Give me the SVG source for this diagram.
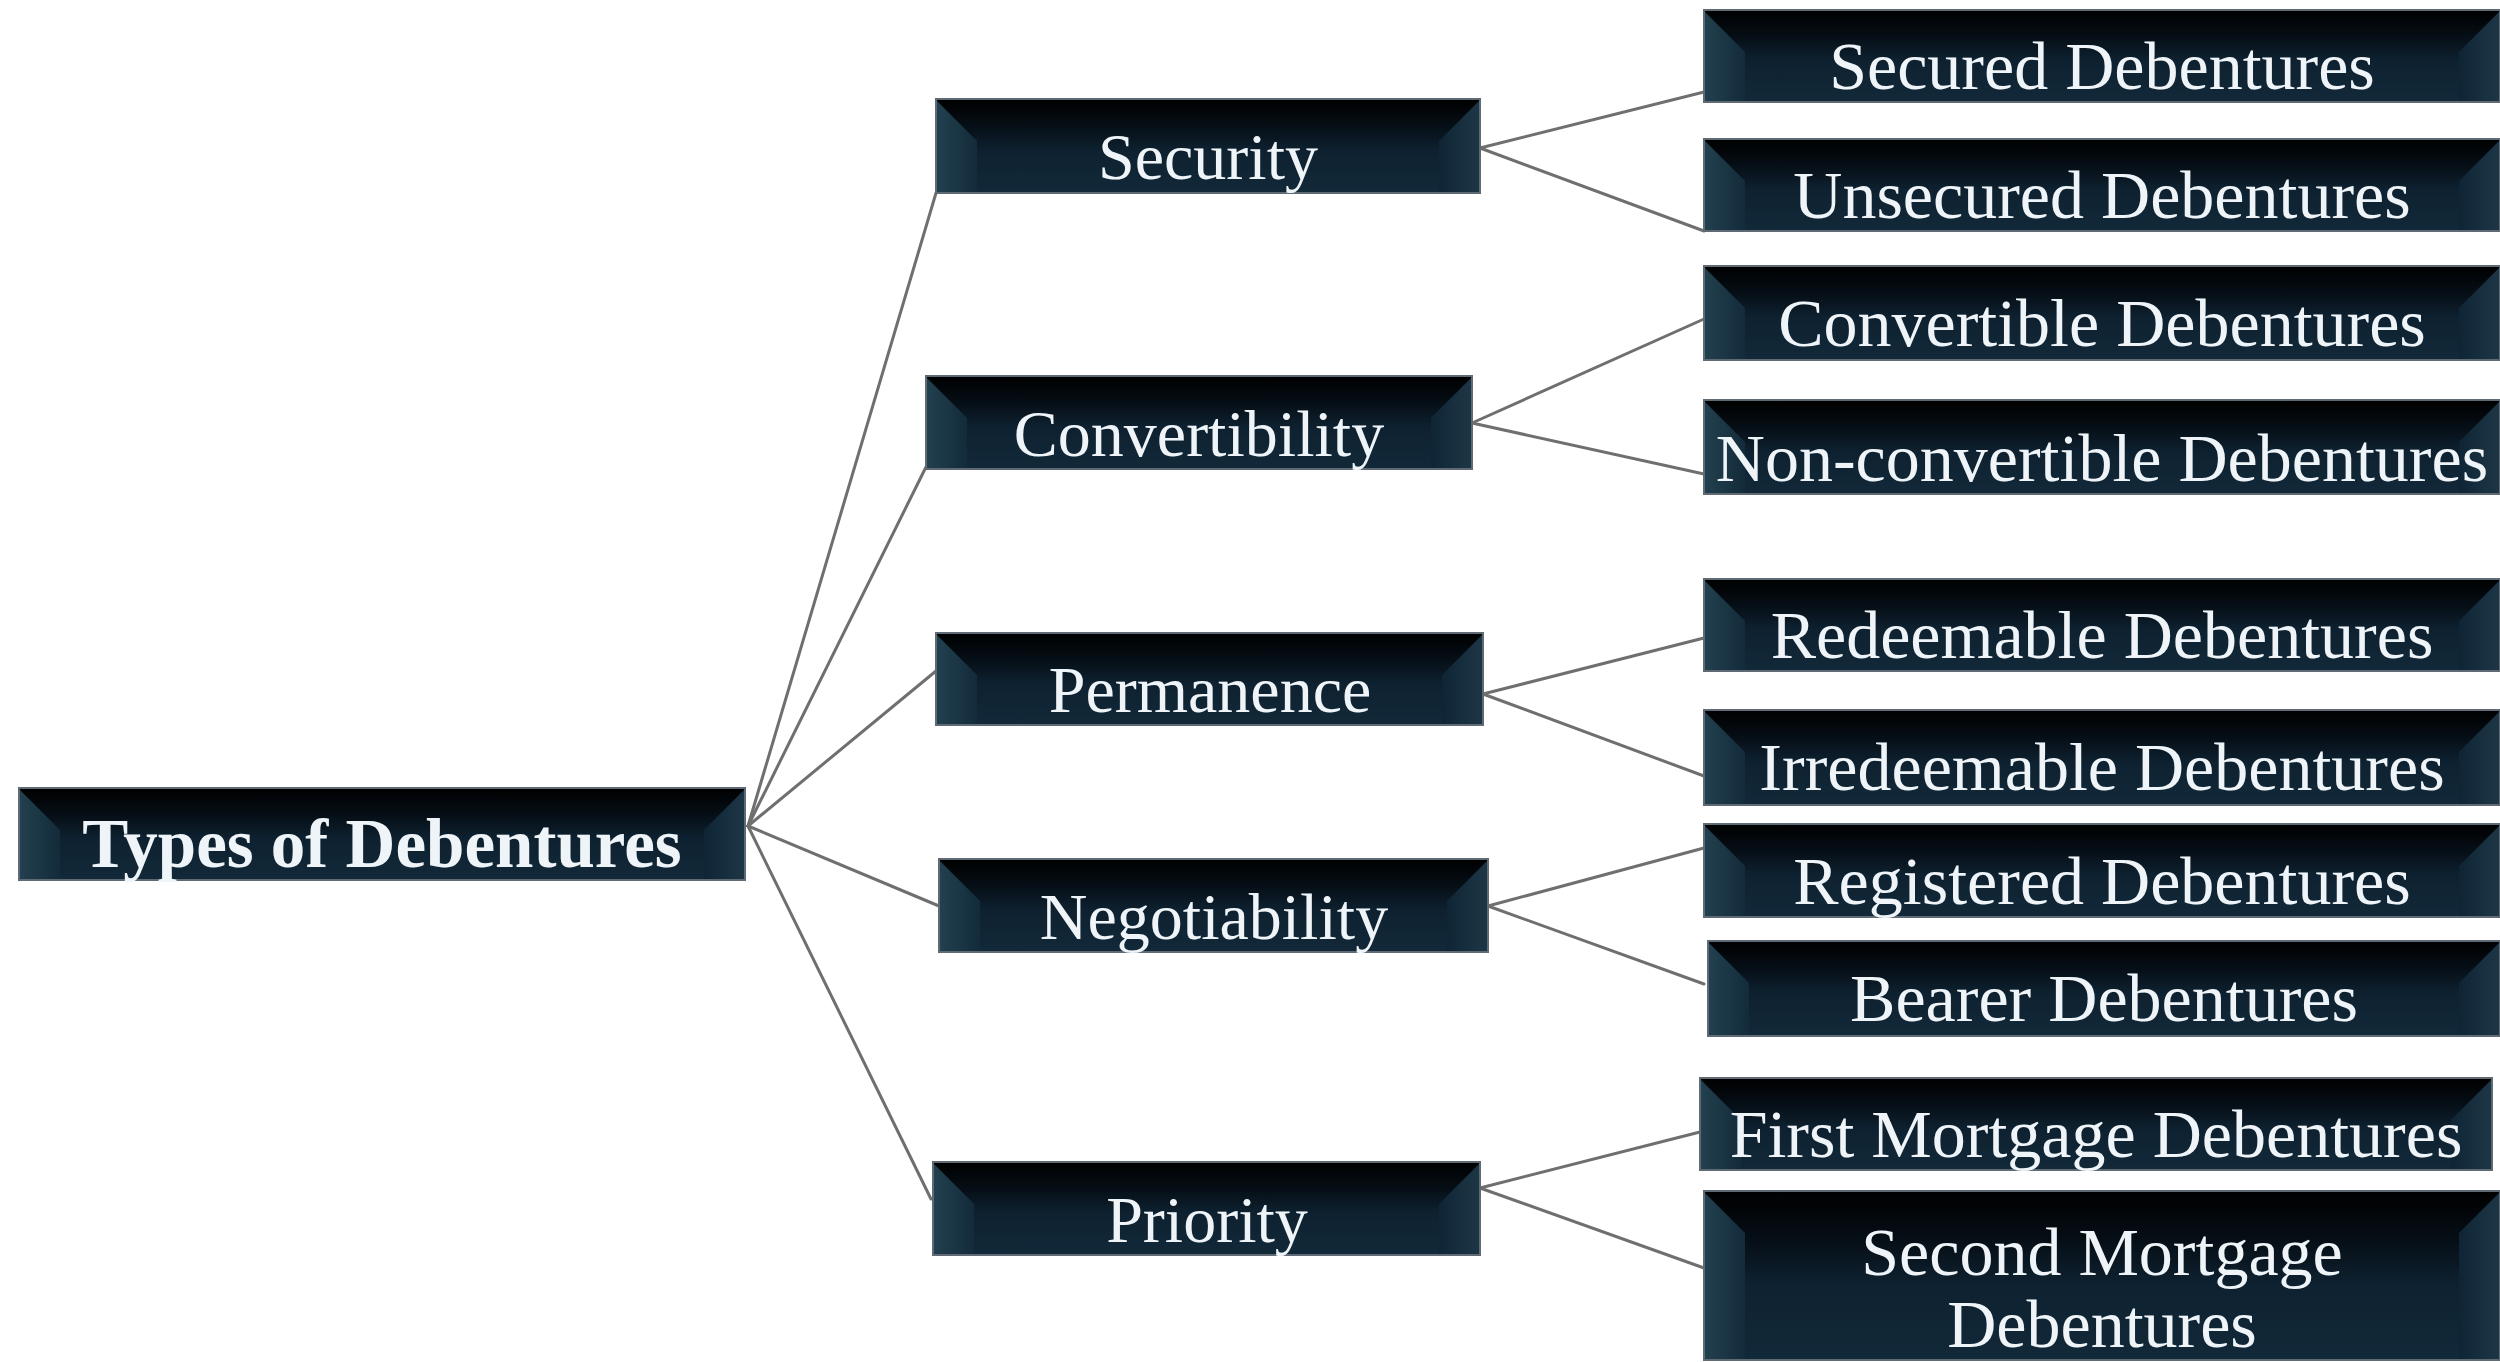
<svg xmlns="http://www.w3.org/2000/svg" width="2500" height="1362" viewBox="0 0 2500 1362">
<defs>
<linearGradient id="body" x1="0" y1="0" x2="0" y2="1">
<stop offset="0" stop-color="#000000"/>
<stop offset="0.3" stop-color="#060f17"/>
<stop offset="0.55" stop-color="#0e2130"/>
<stop offset="1" stop-color="#122939"/>
</linearGradient>
<linearGradient id="bevL" x1="0" y1="0" x2="1" y2="0">
<stop offset="0" stop-color="#22404f"/>
<stop offset="1" stop-color="#132b3a"/>
</linearGradient>
<linearGradient id="bevR" x1="1" y1="0" x2="0" y2="0">
<stop offset="0" stop-color="#1d3646"/>
<stop offset="1" stop-color="#0f2535"/>
</linearGradient>
<style>
.box{fill:url(#body);stroke:#5f6a74;stroke-width:2}
.bl{fill:url(#bevL)}
.br{fill:url(#bevR)}
.t{font-family:"Liberation Serif","Times New Roman",serif;font-size:66px;fill:#eef4f7;text-anchor:middle}
.l3{font-size:68px}
.root{font-weight:bold;font-size:69px}
.conn line{stroke:#6f6f6f;stroke-width:3;stroke-linecap:round}
</style>
</defs>
<rect width="2500" height="1362" fill="#ffffff"/>

<g class="conn" id="connectors">
<line x1="748" y1="826" x2="936" y2="193"/>
<line x1="748" y1="826" x2="926" y2="467"/>
<line x1="748" y1="826" x2="936" y2="671"/>
<line x1="748" y1="826" x2="939" y2="906"/>
<line x1="748" y1="826" x2="931" y2="1199"/>
<line x1="1480" y1="148" x2="1704" y2="92"/>
<line x1="1480" y1="148" x2="1704" y2="231"/>
<line x1="1472" y1="423" x2="1704" y2="319"/>
<line x1="1472" y1="423" x2="1704" y2="474"/>
<line x1="1483" y1="694" x2="1704" y2="638"/>
<line x1="1483" y1="694" x2="1704" y2="776"/>
<line x1="1488" y1="906" x2="1704" y2="848"/>
<line x1="1488" y1="906" x2="1704" y2="984"/>
<line x1="1480" y1="1188" x2="1700" y2="1132"/>
<line x1="1480" y1="1188" x2="1704" y2="1268"/>
</g>

<g id="root">
<rect class="box" x="19" y="788" width="726" height="92"/>
<polygon class="bl" points="20,790 60,830 60,879 20,879"/>
<polygon class="br" points="744,790 704,830 704,879 744,879"/>
<text class="t root" x="382" y="867">Types of Debentures</text>
</g>

<g id="security">
<rect class="box" x="936" y="99" width="544" height="94"/>
<polygon class="bl" points="937,101 977,141 977,192 937,192"/>
<polygon class="br" points="1479,101 1439,141 1439,192 1479,192"/>
<text class="t" x="1208" y="179">Security</text>
</g>
<g id="convertibility">
<rect class="box" x="926" y="376" width="546" height="93"/>
<polygon class="bl" points="927,378 967,418 967,468 927,468"/>
<polygon class="br" points="1471,378 1431,418 1431,468 1471,468"/>
<text class="t" x="1199" y="456">Convertibility</text>
</g>
<g id="permanence">
<rect class="box" x="936" y="633" width="547" height="92"/>
<polygon class="bl" points="937,635 977,675 977,724 937,724"/>
<polygon class="br" points="1482,635 1442,675 1442,724 1482,724"/>
<text class="t" x="1210" y="712">Permanence</text>
</g>
<g id="negotiability">
<rect class="box" x="939" y="859" width="549" height="93"/>
<polygon class="bl" points="940,861 980,901 980,951 940,951"/>
<polygon class="br" points="1487,861 1447,901 1447,951 1487,951"/>
<text class="t" x="1214" y="939">Negotiability</text>
</g>
<g id="priority">
<rect class="box" x="933" y="1162" width="547" height="93"/>
<polygon class="bl" points="934,1164 974,1204 974,1254 934,1254"/>
<polygon class="br" points="1479,1164 1439,1204 1439,1254 1479,1254"/>
<text class="t" x="1207" y="1242">Priority</text>
</g>

<g id="secured">
<rect class="box" x="1704" y="10" width="796" height="92"/>
<polygon class="bl" points="1705,12 1745,52 1745,101 1705,101"/>
<polygon class="br" points="2499,12 2459,52 2459,101 2499,101"/>
<text class="t l3" x="2102" y="89">Secured Debentures</text>
</g>
<g id="unsecured">
<rect class="box" x="1704" y="139" width="796" height="92"/>
<polygon class="bl" points="1705,141 1745,181 1745,230 1705,230"/>
<polygon class="br" points="2499,141 2459,181 2459,230 2499,230"/>
<text class="t l3" x="2102" y="218">Unsecured Debentures</text>
</g>
<g id="convertible">
<rect class="box" x="1704" y="266" width="796" height="94"/>
<polygon class="bl" points="1705,268 1745,308 1745,359 1705,359"/>
<polygon class="br" points="2499,268 2459,308 2459,359 2499,359"/>
<text class="t l3" x="2102" y="346">Convertible Debentures</text>
</g>
<g id="nonconvertible">
<rect class="box" x="1704" y="400" width="796" height="94"/>
<polygon class="bl" points="1705,402 1745,442 1745,493 1705,493"/>
<polygon class="br" points="2499,402 2459,442 2459,493 2499,493"/>
<text class="t l3" x="2102" y="481">Non-convertible Debentures</text>
</g>
<g id="redeemable">
<rect class="box" x="1704" y="579" width="796" height="92"/>
<polygon class="bl" points="1705,581 1745,621 1745,670 1705,670"/>
<polygon class="br" points="2499,581 2459,621 2459,670 2499,670"/>
<text class="t l3" x="2102" y="658">Redeemable Debentures</text>
</g>
<g id="irredeemable">
<rect class="box" x="1704" y="710" width="796" height="95"/>
<polygon class="bl" points="1705,712 1745,752 1745,804 1705,804"/>
<polygon class="br" points="2499,712 2459,752 2459,804 2499,804"/>
<text class="t l3" x="2102" y="790">Irredeemable Debentures</text>
</g>
<g id="registered">
<rect class="box" x="1704" y="824" width="796" height="93"/>
<polygon class="bl" points="1705,826 1745,866 1745,916 1705,916"/>
<polygon class="br" points="2499,826 2459,866 2459,916 2499,916"/>
<text class="t l3" x="2102" y="904">Registered Debentures</text>
</g>
<g id="bearer">
<rect class="box" x="1708" y="941" width="792" height="95"/>
<polygon class="bl" points="1709,943 1749,983 1749,1035 1709,1035"/>
<polygon class="br" points="2499,943 2459,983 2459,1035 2499,1035"/>
<text class="t l3" x="2104" y="1021">Bearer Debentures</text>
</g>
<g id="firstmortgage">
<rect class="box" x="1700" y="1078" width="792" height="92"/>
<polygon class="bl" points="1701,1080 1741,1120 1741,1169 1701,1169"/>
<polygon class="br" points="2491,1080 2451,1120 2451,1169 2491,1169"/>
<text class="t l3" x="2096" y="1157">First Mortgage Debentures</text>
</g>
<g id="secondmortgage">
<rect class="box" x="1704" y="1191" width="796" height="169"/>
<polygon class="bl" points="1705,1193 1745,1233 1745,1359 1705,1359"/>
<polygon class="br" points="2499,1193 2459,1233 2459,1359 2499,1359"/>
<text class="t l3" x="2102" y="1275">Second Mortgage</text>
<text class="t l3" x="2102" y="1347">Debentures</text>
</g>
</svg>
